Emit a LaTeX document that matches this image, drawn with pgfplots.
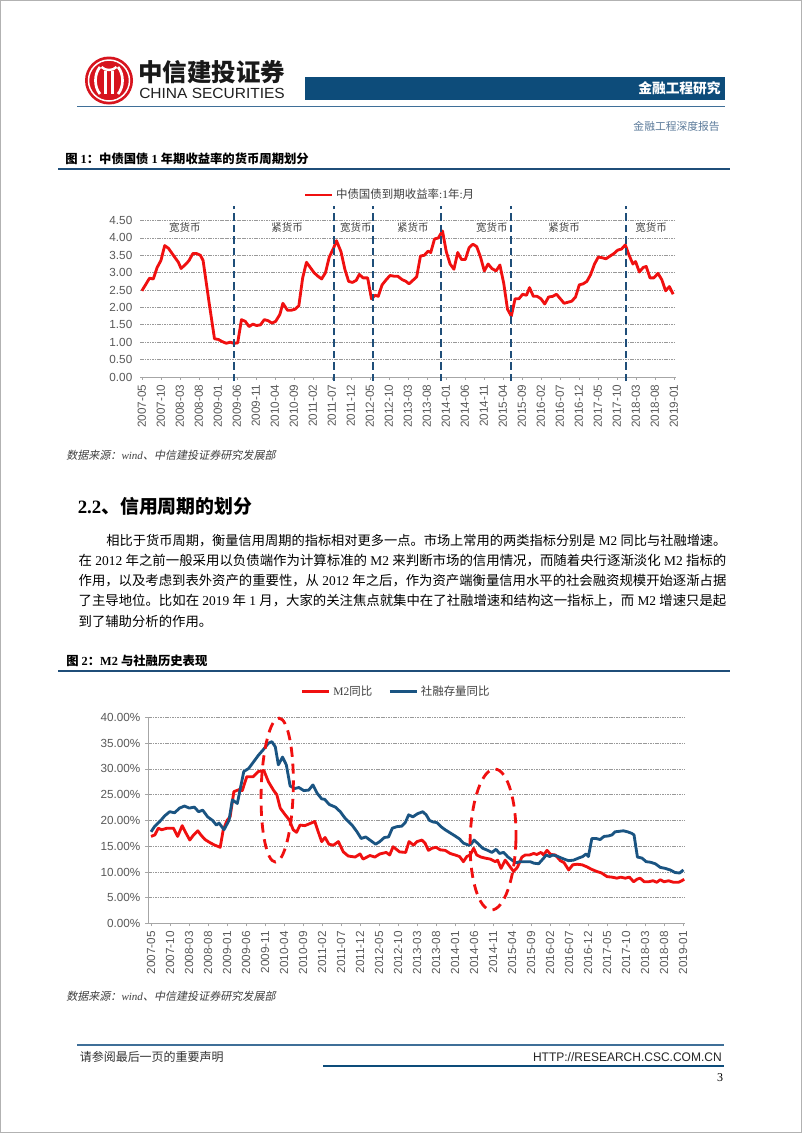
\documentclass[border=0pt]{standalone}
\usepackage{pgfplots}
\pgfplotsset{compat=1.18}
\usepackage{graphicx}
\usepackage{fontspec}
\setmainfont{Liberation Serif}
\newfontfamily\cjk{Noto Sans CJK SC}
\newfontfamily\ar{Liberation Sans}
\newfontfamily\cjkit{Noto Sans CJK SC}[FakeSlant=0.2]
\newcommand\fs[1]{\fontsize{#1}{#1}\selectfont}
\newsavebox\lineA
\definecolor{navy}{HTML}{0D4C7A}
\definecolor{hdrline}{HTML}{3F6F98}
\definecolor{ttlline}{HTML}{1F4E79}
\definecolor{logored}{HTML}{D7141E}
\definecolor{subgray}{HTML}{5B7A9A}
\definecolor{tickgray}{HTML}{595959}
\definecolor{txtgray}{HTML}{404040}
\definecolor{lred}{HTML}{F01010}
\definecolor{lblue}{HTML}{1A5482}
\definecolor{dashblue}{HTML}{1F4E79}
\begin{document}
\sbox\lineA{\fs{10.3pt}{\cjk 作用，以及考虑到表外资产的重要性，从} 2012 {\cjk 年之后，作为资产端衡量信用水平的社会融资规模开始逐渐占据}}%
\pgfmathsetmacro\bodyscale{480.6pt/\wd\lineA}%
\begin{tikzpicture}[x=0.742pt,y=0.742pt]
% page
\fill[white] (0,0) rectangle (802,-1133);
\draw[gray!60, line width=0.75pt] (0.5,-0.5) rectangle (801.5,-1132.5);
% logo
\fill[logored] (109,-80.5) circle (24);
\draw[white, line width=1.1pt] (109,-80.5) circle (20.5);
\draw[white, line width=2pt] (100,-67) .. controls (94,-74) and (94,-87) .. (100,-94);
\draw[white, line width=2pt] (118,-67) .. controls (124,-74) and (124,-87) .. (118,-94);
\draw[white, line width=1.8pt] (105.5,-71) -- (105.5,-94);
\draw[white, line width=1.8pt] (112.5,-71) -- (112.5,-94);
\draw[white, line width=1.8pt] (101.5,-67) .. controls (105,-71) and (113,-71) .. (116.5,-67);
\node[anchor=west, inner sep=0] at (138,-72.5) {\resizebox{109pt}{!}{\cjk\bfseries\color{black!90}中信建投证券}};
\node[anchor=west, inner sep=0] at (139,-93.3) {\resizebox{108pt}{7.6pt}{\ar\color{black!88}CHINA SECURITIES}};
% header bar
\fill[navy] (305,-77) rectangle (725,-99.5);
\node[anchor=east, inner sep=0, text=white] at (721,-88.5) {\cjk\bfseries\fs{10.2pt}金融工程研究};
\draw[hdrline, line width=1.1pt] (77,-106.7) -- (725,-106.7);
\node[anchor=east, inner sep=0, text=subgray] at (720,-126.5) {\cjk\fs{8pt}金融工程深度报告};
% title 1
\node[anchor=west, inner sep=0] at (65,-159) {\fs{9.15pt}{\cjk\bfseries 图} \textbf{1}{\cjk\bfseries ：中债国债} \textbf{1} {\cjk\bfseries 年期收益率的货币周期划分}};
\draw[ttlline, line width=1.4pt] (58,-169.3) -- (730,-169.3);
% chart 1
\begin{axis}[
  at={(103.88pt,-279.73pt)}, anchor=south west, scale only axis,
  width=397.6pt, height=116.1pt,
  xmin=-0.5, xmax=140.5, ymin=0, ymax=4.5,
  axis x line*=bottom, axis y line*=left,
  y axis line style={draw=none},
  x axis line style={draw=gray!70, line width=0.7pt},
  xtick={0,5,...,140},
  xticklabels={2007-05,2007-10,2008-03,2008-08,2009-01,2009-06,2009-11,2010-04,2010-09,2011-02,2011-07,2011-12,2012-05,2012-10,2013-03,2013-08,2014-01,2014-06,2014-11,2015-04,2015-09,2016-02,2016-07,2016-12,2017-05,2017-10,2018-03,2018-08,2019-01},
  ytick={0,0.5,1,1.5,2,2.5,3,3.5,4,4.5},
  yticklabels={0.00,0.50,1.00,1.50,2.00,2.50,3.00,3.50,4.00,4.50},
  x tick label style={rotate=90, anchor=east, font=\ar\fs{8.7pt}, text=tickgray},
  y tick label style={font=\ar\fs{8.7pt}, text=tickgray},
  tick align=outside, major tick length=2.2pt,
  xtick style={draw=gray!70, line width=0.6pt}, ytick style={draw=none},
  ymajorgrids, grid style={gray!80, line width=0.6pt, dash pattern=on 1.2pt off 0.6pt},
  clip=false,
  legend style={at={(0.467,1.163)}, anchor=center, draw=none, fill=none, font=\fs{8.5pt}, text=txtgray, inner sep=0pt},
  legend image code/.code={\draw[#1] (0pt,0pt) -- (20pt,0pt);},
]
\addplot[lred, line width=2.1pt, line join=round] coordinates {
(0,2.48)(2.0,2.84)(3.0,2.82)(4.0,3.15)(5.0,3.35)(6.0,3.78)(7.0,3.70)(8.6,3.45)(9.6,3.30)(10.3,3.12)(11.6,3.25)(12.4,3.35)(13.4,3.55)(14.4,3.55)(15.4,3.50)(16.1,3.35)(17.6,2.20)(19.1,1.10)(20.1,1.08)(21.1,1.02)(22.2,0.97)(23.2,1.00)(24.2,0.97)(25.2,0.98)(26.2,1.65)(27.2,1.60)(28.2,1.45)(29.2,1.52)(30.2,1.48)(31.2,1.50)(32.2,1.65)(33.2,1.62)(34.2,1.55)(35.2,1.60)(36.3,1.80)(37.1,2.12)(38.3,1.92)(39.3,1.92)(40.3,1.95)(41.3,2.05)(42.3,2.85)(43.3,3.30)(44.3,3.15)(45.3,3.00)(46.3,2.90)(47.3,2.82)(48.3,3.00)(49.3,3.45)(50.4,3.70)(51.2,3.92)(52.4,3.60)(53.4,3.10)(54.4,2.75)(55.4,2.72)(56.4,2.78)(57.2,2.95)(58.2,2.85)(59.4,2.85)(60.4,2.25)(61.4,2.35)(62.2,2.32)(63.2,2.65)(64.3,2.80)(65.3,2.92)(66.3,2.90)(67.3,2.90)(68.5,2.80)(69.5,2.75)(70.3,2.68)(71.3,2.78)(72.3,2.88)(73.3,3.48)(74.3,3.50)(75.3,3.62)(76.0,3.58)(77.0,3.97)(78.0,4.00)(79.1,4.20)(80.1,3.60)(81.1,3.25)(82.1,3.10)(83.1,3.58)(84.1,3.38)(85.1,3.38)(86.1,3.72)(87.1,3.82)(88.1,3.75)(89.1,3.45)(90.1,3.05)(91.1,3.25)(92.1,3.12)(93.2,3.05)(94.2,3.22)(95.2,2.70)(96.2,1.95)(97.2,1.75)(98.2,2.25)(99.2,2.25)(100.2,2.38)(101.2,2.35)(102.0,2.57)(103.0,2.32)(104.0,2.32)(105.0,2.25)(106.0,2.10)(107.0,2.30)(108.1,2.32)(109.1,2.38)(110.1,2.25)(111.1,2.12)(112.1,2.15)(113.1,2.18)(114.1,2.30)(115.1,2.65)(116.1,2.68)(117.1,2.75)(118.1,2.95)(119.1,3.25)(120.1,3.45)(121.1,3.43)(122.1,3.40)(123.2,3.48)(124.2,3.55)(125.2,3.65)(126.2,3.68)(127.2,3.80)(128.2,3.50)(129.2,3.25)(129.9,3.32)(130.9,3.02)(131.9,3.15)(132.7,3.18)(133.7,2.85)(134.7,2.85)(135.8,2.98)(136.8,2.80)(137.8,2.48)(138.8,2.60)(139.8,2.38)
};
\addlegendentry{{\cjk 中债国债到期收益率}:1{\cjk 年}:{\cjk 月}}
\foreach \xx in {24.3,50.5,60.7,78.6,97.2,127.4}{
  \edef\tmp{\noexpand\draw[dashblue, line width=1.5pt, dash pattern=on 5.5pt off 3pt] (axis cs:\xx,-0.12) -- (axis cs:\xx,4.93);}\tmp
}
\foreach \xx/\lab in {11.3/宽货币,38.2/紧货币,56.3/宽货币,71.3/紧货币,92.1/宽货币,111.1/紧货币,134/宽货币}{
  \edef\tmp{\noexpand\node[text=txtgray, inner sep=0] at (axis cs:\xx,4.3) {\noexpand\cjk\noexpand\fs{7.8pt}\lab};}\tmp
}
\end{axis}
% source 1
\node[anchor=west, inner sep=0, text=txtgray] at (66,-455) {\fs{8.2pt}{\cjkit 数据来源：}{\itshape wind}{\cjkit 、中信建投证券研究发展部}};
% section heading
\node[anchor=west, inner sep=0] at (77.5,-506.7) {\fs{14pt}\textbf{2.2}{\cjk\bfseries 、信用周期的划分}};
% body
\node[anchor=base west, inner sep=0] at (106.2,-545.3) {\resizebox{460pt}{!}{\fs{10.3pt}{\cjk 相比于货币周期，衡量信用周期的指标相对更多一点。市场上常用的两类指标分别是} M2 {\cjk 同比与社融增速。}}};
\node[anchor=base west, inner sep=0] at (78.4,-565.3) {\resizebox{480.6pt}{!}{\fs{10.3pt}{\cjk 在} 2012 {\cjk 年之前一般采用以负债端作为计算标准的} M2 {\cjk 来判断市场的信用情况，而随着央行逐渐淡化} M2 {\cjk 指标的}}};
\node[anchor=base west, inner sep=0] at (78.4,-585.8) {\resizebox{480.6pt}{!}{\usebox\lineA}};
\node[anchor=base west, inner sep=0] at (78.4,-605.8) {\resizebox{480.6pt}{!}{\fs{10.3pt}{\cjk 了主导地位。比如在} 2019 {\cjk 年} 1 {\cjk 月，大家的关注焦点就集中在了社融增速和结构这一指标上，而} M2 {\cjk 增速只是起}}};
\node[anchor=base west, inner sep=0] at (78.4,-626.3) {\scalebox{\bodyscale}{\fs{10.3pt}{\cjk 到了辅助分析的作用。}}};
% title 2
\node[anchor=west, inner sep=0] at (66,-660.7) {\fs{9.15pt}{\cjk\bfseries 图} \textbf{2}{\cjk\bfseries ：}\textbf{M2} {\cjk\bfseries 与社融历史表现}};
\draw[ttlline, line width=1.4pt] (58,-671) -- (730,-671);
% chart 2
\begin{axis}[
  at={(109.82pt,-685.24pt)}, anchor=south west, scale only axis,
  width=398.4pt, height=152.9pt,
  xmin=-0.8, xmax=140.5, ymin=0, ymax=40,
  axis x line*=bottom, axis y line*=left,
  axis line style={draw=gray!70, line width=0.7pt},
  xtick={0,5,...,140},
  xticklabels={2007-05,2007-10,2008-03,2008-08,2009-01,2009-06,2009-11,2010-04,2010-09,2011-02,2011-07,2011-12,2012-05,2012-10,2013-03,2013-08,2014-01,2014-06,2014-11,2015-04,2015-09,2016-02,2016-07,2016-12,2017-05,2017-10,2018-03,2018-08,2019-01},
  ytick={0,5,10,15,20,25,30,35,40},
  yticklabels={0.00\%,5.00\%,10.00\%,15.00\%,20.00\%,25.00\%,30.00\%,35.00\%,40.00\%},
  x tick label style={rotate=90, anchor=east, font=\ar\fs{8.7pt}, text=tickgray},
  y tick label style={font=\ar\fs{8.7pt}, text=tickgray},
  tick align=outside, major tick length=2.2pt,
  tick style={draw=gray!70, line width=0.6pt},
  ymajorgrids, grid style={gray!80, line width=0.6pt, dash pattern=on 1.2pt off 0.6pt},
  clip=false,
  legend columns=2,
  legend style={at={(0.463,1.124)}, anchor=center, draw=none, fill=none, font=\fs{8.5pt}, text=txtgray, inner sep=0pt, /tikz/every even column/.append style={column sep=10pt}},
  legend image code/.code={\draw[#1] (0pt,0pt) -- (20pt,0pt);},
]
\addplot[lred, line width=2.1pt, line join=round] coordinates {
(0,16.9)(1,17.2)(1.9,18.5)(2.8,18.2)(4.2,18.5)(5.9,18.5)(7,16.9)(8.2,19.0)(9,17.8)(10.2,16.2)(11.2,17.2)(12.3,18.0)(13.1,17.2)(14.2,16.3)(15.5,15.7)(16.8,15.2)(18.2,14.8)(19.0,18.2)(20.0,20.0)(20.8,20.7)(21.8,25.6)(23.2,26.0)(24.0,25.8)(25.2,28.5)(26.9,28.5)(28.2,29.5)(29.7,29.7)(30.9,27.5)(32.2,25.9)(33.1,25.0)(34.0,22.4)(35.3,21.1)(36.4,20.1)(37.4,18.2)(38.3,17.7)(39.2,19.1)(40.5,19.0)(41.8,19.4)(43.1,19.8)(44.0,17.8)(44.9,15.9)(45.8,16.7)(46.8,15.4)(48.0,15.2)(49.3,15.9)(50.6,13.9)(51.9,13.1)(53.7,12.9)(55.0,13.5)(55.8,12.5)(57.6,13.2)(58.9,12.9)(60.2,13.5)(61.9,13.8)(62.8,13.3)(63.7,14.9)(65.4,13.9)(67.0,13.8)(67.9,15.9)(69.1,15.2)(70.0,15.9)(71.3,16.2)(72.1,15.6)(73.0,14.2)(73.9,14.6)(75.0,14.8)(76.1,14.3)(77.4,14.2)(78.7,13.6)(80.0,13.3)(81.2,13.0)(82.2,12.0)(83.1,13.0)(84.0,13.3)(84.9,14.6)(85.7,13.3)(86.8,12.9)(87.9,12.7)(89.3,12.5)(90.6,12.0)(91.2,12.3)(92.1,10.7)(93.2,12.3)(94.1,11.4)(95.4,10.1)(96.4,10.9)(97.6,12.9)(98.5,13.3)(99.6,13.3)(100.7,13.6)(101.5,13.4)(102.6,13.8)(103.3,13.3)(104.2,14.2)(105.2,13.4)(106.4,13.3)(107.7,12.2)(108.7,11.8)(109.9,10.4)(111.0,11.4)(112.1,11.5)(113.4,11.4)(114.7,11.0)(116.0,10.5)(117.3,10.1)(118.6,9.8)(120.0,9.1)(121.3,9.0)(122.6,8.8)(123.6,9.0)(124.8,8.8)(125.9,9.0)(127.0,8.1)(127.9,8.6)(128.7,8.8)(129.8,8.1)(130.9,8.1)(132.1,8.3)(133.1,8.0)(134.0,8.5)(135.0,8.1)(136.2,8.3)(137.5,8.0)(138.8,8.0)(139.7,8.3)(140.3,8.6)
};
\addlegendentry{M2{\cjk 同比}}
\addplot[lblue, line width=2.1pt, line join=round] coordinates {
(0,17.8)(1.0,18.9)(2.3,19.8)(3.6,20.9)(4.9,21.7)(6.2,21.5)(7.5,22.4)(8.8,22.8)(10.1,22.4)(11.4,22.6)(12.5,21.7)(13.6,22.0)(14.9,20.7)(16.2,20.0)(17.2,19.1)(17.9,19.5)(19.2,18.2)(20.5,20.0)(21.4,24.0)(22.7,23.3)(24.4,29.5)(25.7,30.1)(27.0,31.4)(28.3,32.7)(29.6,33.8)(30.9,35.0)(31.8,35.3)(32.7,34.3)(33.5,30.8)(34.6,32.3)(35.6,30.8)(36.6,26.7)(37.8,26.2)(38.9,26.4)(40.2,25.8)(41.5,25.9)(42.6,26.9)(43.7,25.3)(44.9,24.2)(45.7,24.1)(46.9,23.1)(48.5,22.6)(49.8,21.7)(51.1,20.4)(52.9,19.1)(54.2,17.8)(55.3,16.5)(56.5,16.8)(57.6,16.2)(59.1,15.4)(60.2,15.9)(61.4,16.7)(62.5,16.8)(63.5,18.5)(64.7,18.8)(66.0,18.9)(66.9,19.6)(67.8,21.1)(68.9,20.7)(70.1,21.3)(71.5,21.7)(72.4,21.1)(73.3,20.0)(74.3,19.7)(75.2,19.6)(76.3,18.8)(77.4,18.2)(78.7,17.6)(80.0,17.0)(81.2,16.4)(82.2,15.6)(83.6,15.2)(84.2,15.4)(85.0,16.2)(86.2,15.4)(87.3,14.6)(88.6,14.2)(89.7,13.8)(90.8,14.4)(91.7,13.6)(92.8,13.8)(93.8,13.0)(95.0,12.3)(96.1,11.8)(97.1,12.0)(98.5,12.0)(99.8,12.0)(100.8,11.7)(102.0,11.6)(103.1,12.5)(104.0,13.3)(104.9,13.0)(105.7,13.3)(106.8,13.1)(107.7,12.8)(108.7,12.5)(109.9,12.2)(111.2,12.3)(112.5,12.7)(113.6,13.0)(114.5,13.5)(115.1,13.0)(116.0,16.5)(117.1,16.5)(118.2,16.3)(119.2,16.9)(120.4,17.0)(121.3,17.2)(122.1,17.8)(123.3,17.9)(124.3,18.0)(125.4,17.8)(126.5,17.5)(127.1,17.2)(128.0,12.9)(129.2,12.7)(130.3,12.0)(131.4,11.9)(132.7,11.6)(134.0,10.9)(135.3,10.7)(136.6,10.4)(137.9,9.9)(139.1,9.8)(140.1,10.4)
};
\addlegendentry{{\cjk 社融存量同比}}
\draw[lred, line width=2.1pt, dash pattern=on 7.5pt off 5pt, rotate around={-1.5:(axis cs:33.2,25.9)}] (axis cs:33.2,25.9) ellipse [x radius=11.9pt, y radius=53.4pt];
\draw[lred, line width=2.1pt, dash pattern=on 7.5pt off 5pt, rotate around={-1.5:(axis cs:90.0,16.3)}] (axis cs:90.0,16.3) ellipse [x radius=17pt, y radius=52.3pt];
\end{axis}
% source 2
\node[anchor=west, inner sep=0, text=txtgray] at (66,-996.7) {\fs{8.2pt}{\cjkit 数据来源：}{\itshape wind}{\cjkit 、中信建投证券研究发展部}};
% footer
\draw[hdrline, line width=1.1pt] (77,-1045) -- (724,-1045);
\node[anchor=west, inner sep=0, text=black!80] at (79.5,-1057) {\cjk\fs{8.9pt}请参阅最后一页的重要声明};
\node[anchor=east, inner sep=0] at (722,-1057) {\resizebox{140pt}{6.7pt}{\ar\color{black!85}HTTP://RESEARCH.CSC.COM.CN}};
\draw[navy, line width=2.2pt] (323,-1066) -- (724,-1066);
\node[inner sep=0] at (720,-1078) {\fs{8.9pt}3};
\end{tikzpicture}
\end{document}
